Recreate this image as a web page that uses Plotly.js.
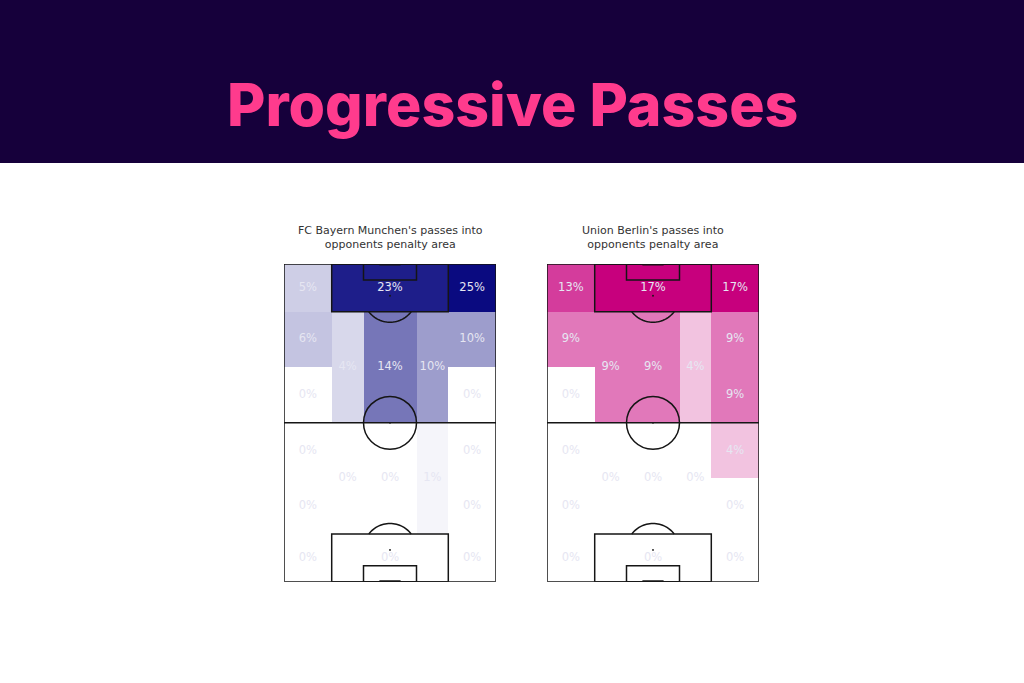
<!DOCTYPE html>
<html>
<head>
<meta charset="utf-8">
<script src="https://cdn.plot.ly/plotly-3.0.1.min.js"></script>
<style>html,body{margin:0;padding:0;background:#fff;}#chart{width:1024px;height:683px;}</style>
</head>
<body>
<div id="chart"></div>
<script>
// ---------- DATA ----------
const zoneNames = [
  'Final third wide left', 'Opponent penalty box', 'Final third wide right',
  'Wide left 81-102', 'Wide right 81-102',
  'Left half-space attack', 'Centre attack', 'Right half-space attack',
  'Wide left 60-81', 'Wide right 60-81',
  'Wide left 39-60', 'Wide right 39-60',
  'Left half-space build-up', 'Centre build-up', 'Right half-space build-up',
  'Wide left 18-39', 'Wide right 18-39',
  'Own box wide left', 'Own penalty box', 'Own box wide right'
];
const bayernPct = [5, 23, 25, 6, 10, 4, 14, 10, 0, 0, 0, 0, 0, 0, 1, 0, 0, 0, 0, 0];
const unionPct  = [13, 17, 17, 9, 9, 9, 9, 4, 0, 9, 0, 4, 0, 0, 0, 0, 0, 0, 0, 0];
const teamTitles = [
  "FC Bayern Munchen's passes into<br>opponents penalty area",
  "Union Berlin's passes into<br>opponents penalty area"
];
const chartTitle = 'Progressive Passes';

// ---------- GEOMETRY (StatsBomb 80 x 120, vertical) ----------
const zoneBounds = [
  [0,18,102,120],[18,62,102,120],[62,80,102,120],
  [0,18,81,102],[62,80,81,102],
  [18,30,60,102],[30,50,60,102],[50,62,60,102],
  [0,18,60,81],[62,80,60,81],
  [0,18,39,60],[62,80,39,60],
  [18,30,18,60],[30,50,18,60],[50,62,18,60],
  [0,18,18,39],[62,80,18,39],
  [0,18,0,18],[18,62,0,18],[62,80,0,18]
];
const xEdges = [0,18,30,50,62,80];
const yEdges = [0,18,39,60,81,102,120];

function zoneOf(cx, cy){
  return zoneBounds.findIndex(b => cx>b[0] && cx<b[1] && cy>b[2] && cy<b[3]);
}
function grid(vals){
  const z = [];
  for (let r=0;r<yEdges.length-1;r++){
    const row=[];
    const cy=(yEdges[r]+yEdges[r+1])/2;
    for (let c=0;c<xEdges.length-1;c++){
      const cx=(xEdges[c]+xEdges[c+1])/2;
      row.push(vals[zoneOf(cx,cy)]);
    }
    z.push(row);
  }
  return z;
}

const teams = [
  {vals: bayernPct, color: '#0a0a80', xa:'x', ya:'y', dom:[284/1024, 496/1024]},
  {vals: unionPct,  color: '#c7007d', xa:'x2', ya:'y2', dom:[547/1024, 759/1024]}
];

const traces = [];
teams.forEach(t => {
  traces.push({
    type:'heatmap', x:xEdges, y:yEdges, z:grid(t.vals),
    zmin:0, zmax:Math.max(...t.vals),
    colorscale:[[0,'#ffffff'],[1,t.color]], showscale:false,
    hoverinfo:'skip', xaxis:t.xa, yaxis:t.ya, zsmooth:false
  });
  traces.push({
    type:'scatter', mode:'text',
    x: zoneBounds.map(b => (b[0]+b[1])/2),
    y: zoneBounds.map(b => (b[2]+b[3])/2),
    text: t.vals.map(v => v + '%'),
    textfont:{family:'DejaVu Sans', size:11.5, color:'#e6e6f2'},
    hoverinfo:'skip', xaxis:t.xa, yaxis:t.ya, cliponaxis:false, showlegend:false
  });
});

function arcPath(cy, dir){
  const pts=[];
  const a0=Math.acos(0.6);
  for(let i=0;i<=30;i++){
    const a=-a0 + (2*a0)*i/30;
    const x=40+10*Math.sin(a);
    const y=cy+dir*10*Math.cos(a);
    pts.push((i?'L':'M')+x.toFixed(3)+','+y.toFixed(3));
  }
  return pts.join(' ');
}

const lineCol = '#151515';
const shapes = [];
shapes.push({type:'rect', xref:'paper', yref:'paper', x0:0, x1:1, y0:1-163/683, y1:1,
  fillcolor:'#16003b', line:{width:0}, layer:'below'});
teams.forEach(t => {
  const L={color:lineCol, width:1.5};
  const s=(o)=>Object.assign({xref:t.xa, yref:t.ya, line:L}, o);
  shapes.push(s({type:'rect', x0:0,x1:80,y0:0,y1:120}));
  shapes.push(s({type:'line', x0:0,x1:80,y0:60,y1:60}));
  shapes.push(s({type:'circle', x0:30,x1:50,y0:50,y1:70}));
  shapes.push(s({type:'rect', x0:18,x1:62,y0:102,y1:120}));
  shapes.push(s({type:'rect', x0:30,x1:50,y0:114,y1:120}));
  shapes.push(s({type:'rect', x0:18,x1:62,y0:0,y1:18}));
  shapes.push(s({type:'rect', x0:30,x1:50,y0:0,y1:6}));
  shapes.push(s({type:'path', path:arcPath(108,-1)}));
  shapes.push(s({type:'path', path:arcPath(12,1)}));
  [[40,108],[40,12],[40,60]].forEach(p=>{
    shapes.push({type:'circle', xref:t.xa, yref:t.ya, x0:p[0]-0.35,x1:p[0]+0.35,y0:p[1]-0.35,y1:p[1]+0.35,
      fillcolor:lineCol, line:{width:0}});
  });
  shapes.push({type:'line', xref:t.xa, yref:t.ya, x0:36,x1:44,y0:120,y1:120, line:{color:lineCol,width:3}});
  shapes.push({type:'line', xref:t.xa, yref:t.ya, x0:36,x1:44,y0:0,y1:0, line:{color:lineCol,width:3}});
});

const yDom=[1-581.7/683, 1-264/683];
const axBase={visible:false, fixedrange:true, showgrid:false, zeroline:false};
const layout = {
  width:1024, height:683, margin:{l:0,r:0,t:0,b:0},
  paper_bgcolor:'#ffffff', plot_bgcolor:'rgba(0,0,0,0)', showlegend:false,
  xaxis:Object.assign({}, axBase, {domain:teams[0].dom, range:[0,80]}),
  yaxis:Object.assign({}, axBase, {domain:yDom, range:[0,120]}),
  xaxis2:Object.assign({}, axBase, {domain:teams[1].dom, range:[0,80]}),
  yaxis2:Object.assign({}, axBase, {domain:yDom, range:[0,120]}),
  shapes:shapes,
  annotations:[
    {xref:'paper', yref:'paper', x:0.5, y:1-104/683, xanchor:'center', yanchor:'middle',
     text:chartTitle, showarrow:false,
     font:{family:'Inter', size:59, color:'#ff3b8d', weight:800}},
    {xref:'paper', yref:'paper', x:(teams[0].dom[0]+teams[0].dom[1])/2, y:1-238/683,
     xanchor:'center', yanchor:'middle', text:teamTitles[0], showarrow:false,
     font:{family:'DejaVu Sans', size:11, color:'#333333'}},
    {xref:'paper', yref:'paper', x:(teams[1].dom[0]+teams[1].dom[1])/2, y:1-238/683,
     xanchor:'center', yanchor:'middle', text:teamTitles[1], showarrow:false,
     font:{family:'DejaVu Sans', size:11, color:'#333333'}}
  ]
};
Plotly.newPlot('chart', traces, layout, {staticPlot:true, displayModeBar:false});
</script>
</body>
</html>
